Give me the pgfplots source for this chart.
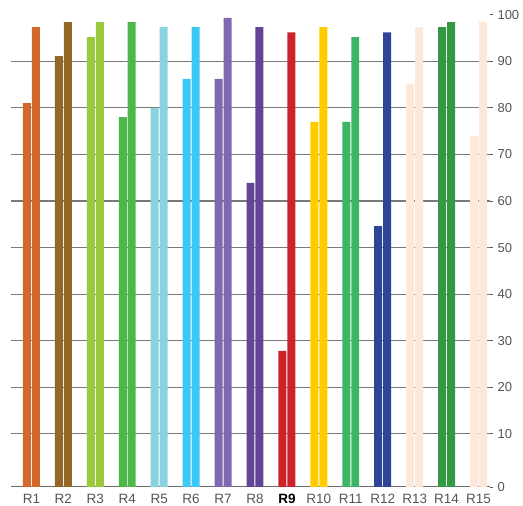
\documentclass[border=0pt]{standalone}
\usepackage{pgfplots}
\pgfplotsset{compat=1.18}
\usepackage{fontspec}
\setmainfont{Liberation Sans}

\definecolor{cR1}{HTML}{D2692A}
\definecolor{cR2}{HTML}{956727}
\definecolor{cR3}{HTML}{9BC93C}
\definecolor{cR4}{HTML}{4DB84A}
\definecolor{cR5}{HTML}{88D3E0}
\definecolor{cR6}{HTML}{3CC8F4}
\definecolor{cR7}{HTML}{7E69B0}
\definecolor{cR8}{HTML}{634597}
\definecolor{cR9}{HTML}{CC2229}
\definecolor{cR10}{HTML}{FFCC00}
\definecolor{cR11}{HTML}{3DB564}
\definecolor{cR12}{HTML}{2E4597}
\definecolor{cR13}{HTML}{FDE9DA}
\definecolor{cR14}{HTML}{339944}
\definecolor{cR15}{HTML}{FDE9DA}
\definecolor{txt}{HTML}{555555}

\begin{document}
\begin{tikzpicture}
  \path[use as bounding box] (0,0) rectangle (523pt,506pt);
  \begin{axis}[
    at={(11pt,19pt)}, anchor=south west,
    scale only axis,
    width=479pt, height=477pt,
    font=\fontsize{13}{15}\selectfont,
    /pgf/number format/assume math mode=true,
    y coord trafo/.code={\pgfmathparse{#1+1.4}},
    y coord inv trafo/.code={\pgfmathparse{#1-1.4}},
    xmin=-0.64, xmax=14.36,
    ymin=-1.4, ymax=101,
    axis x line=bottom, axis y line=right,
    axis line style={-},
    x axis line style={draw=gray!85!black, line width=1pt},
    y axis line style={draw=none},
    xtick={0,...,14},
    xticklabels={R1,R2,R3,R4,R5,R6,R7,R8,\textbf{\color{black}R9},R10,R11,R12,R13,R14,R15},
    xtick style={draw=none},
    xticklabel style={text=txt, yshift=-1pt, font=\fontsize{13.5}{15}\selectfont},
    ytick={10,20,30,40,50,60,70,80,90},
    yticklabels={10,20,30,40,50,60,70,80,90},
    extra y ticks={-1.4,100},
    extra y tick labels={0,100},
    extra y tick style={grid=none},
    ytick pos=right, tick align=outside,
    major tick length=3pt,
    ytick style={draw=gray!70!black, line width=0.8pt},
    yticklabel style={text=txt, anchor=west, xshift=1pt},
    ymajorgrids,
    grid style={draw=gray!95!black, line width=1.1pt},
    ybar, bar width=0.25, bar shift=0pt,
    every axis plot/.append style={draw=none, bar shift=0pt},
  ]
    \addplot[fill=cR1]  coordinates {(-0.14,81.0) (0.14,97.3)};
    \addplot[fill=cR2]  coordinates {(0.86,91.1) (1.14,98.4)};
    \addplot[fill=cR3]  coordinates {(1.86,95.2) (2.14,98.4)};
    \addplot[fill=cR4]  coordinates {(2.86,78.0) (3.14,98.4)};
    \addplot[fill=cR5]  coordinates {(3.86,80.0) (4.14,97.3)};
    \addplot[fill=cR6]  coordinates {(4.86,86.2) (5.14,97.3)};
    \addplot[fill=cR7]  coordinates {(5.86,86.2) (6.14,99.3)};
    \addplot[fill=cR8]  coordinates {(6.86,63.9) (7.14,97.3)};
    \addplot[fill=cR9]  coordinates {(7.86,27.8) (8.14,96.2)};
    \addplot[fill=cR10] coordinates {(8.86,77.0) (9.14,97.3)};
    \addplot[fill=cR11] coordinates {(9.86,77.0) (10.14,95.2)};
    \addplot[fill=cR12] coordinates {(10.86,54.6) (11.14,96.2)};
    \addplot[fill=cR13] coordinates {(11.86,85.1) (12.14,97.3)};
    \addplot[fill=cR14] coordinates {(12.86,97.3) (13.14,98.4)};
    \addplot[fill=cR15] coordinates {(13.86,73.9) (14.14,98.4)};
  \end{axis}
\end{tikzpicture}
\end{document}
